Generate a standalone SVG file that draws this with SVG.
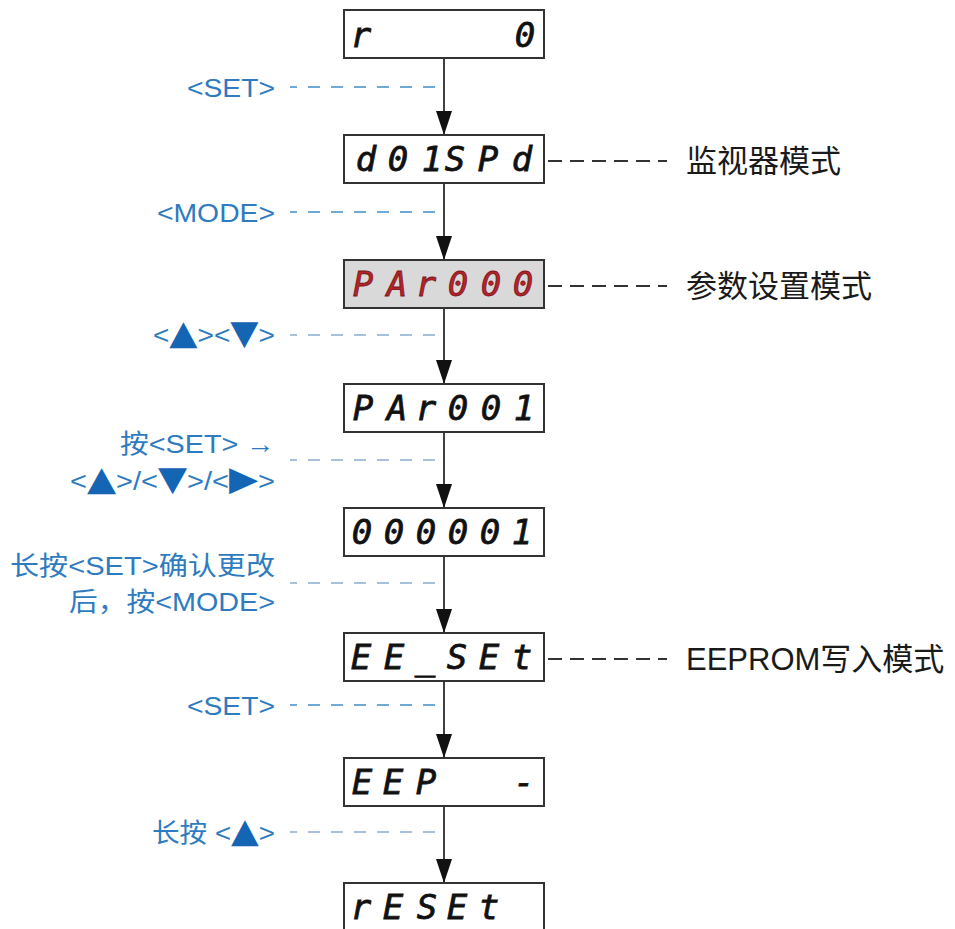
<svg xmlns="http://www.w3.org/2000/svg" width="955" height="929" viewBox="0 0 955 929">
<defs>
<style>
.box{fill:#ffffff;stroke:#333333;stroke-width:2}
.box.sel{fill:#d9d9d9}
.seg{font-family:"DejaVu Sans Mono","Liberation Mono",monospace;font-style:oblique;font-size:34px;fill:#111111;stroke:#111111;stroke-width:0.8;text-anchor:middle}
.seg.red{fill:#b3242a;stroke:#7a1418}
.flow{stroke:#111111;stroke-width:1.6;fill:none;marker-end:url(#arr)}
.dl{stroke:#3f8fc5;stroke-width:1.6;stroke-dasharray:12 11;fill:none}
.dl.lt{stroke:#8badd0}
.dr{stroke:#333333;stroke-width:1.8;stroke-dasharray:14 8;fill:none}
.lbl{font-family:"Liberation Sans","Noto Sans CJK SC",sans-serif;font-size:26px;fill:#2e7bbf;text-anchor:end}
.tri{font-family:"DejaVu Sans",sans-serif;font-size:34px;fill:#1565b5}
.rl{font-family:"Liberation Sans","Noto Sans CJK SC",sans-serif;font-size:31px;fill:#1a1a1a}
</style>
<marker id="arr" viewBox="0 0 24 16" refX="24" refY="8" markerWidth="24" markerHeight="16" markerUnits="userSpaceOnUse" orient="auto">
<path d="M0,0 L24,8 L0,16 z" fill="#111111"/>
</marker>
</defs>

<g id="connectors">
<line class="flow" x1="444" y1="58" x2="444" y2="135"/>
<line class="flow" x1="444" y1="183" x2="444" y2="260"/>
<line class="flow" x1="444" y1="308" x2="444" y2="384"/>
<line class="flow" x1="444" y1="432" x2="444" y2="508"/>
<line class="flow" x1="444" y1="556" x2="444" y2="633"/>
<line class="flow" x1="444" y1="681" x2="444" y2="758"/>
<line class="flow" x1="444" y1="806" x2="444" y2="883"/>
<line class="dl" x1="435" y1="87" x2="290" y2="87"/>
<line class="dl" x1="435" y1="212" x2="290" y2="212"/>
<line class="dl lt" x1="435" y1="335" x2="290" y2="335"/>
<line class="dl lt" x1="435" y1="460" x2="290" y2="460"/>
<line class="dl lt" x1="435" y1="583" x2="290" y2="583"/>
<line class="dl" x1="435" y1="705" x2="290" y2="705"/>
<line class="dl lt" x1="435" y1="832" x2="290" y2="832"/>
<line class="dr" x1="548" y1="161" x2="667" y2="161"/>
<line class="dr" x1="548" y1="286" x2="667" y2="286"/>
<line class="dr" x1="548" y1="659" x2="667" y2="659"/>
</g>

<g id="n1">
<rect class="box" x="344" y="10" width="200" height="48"/>
<text class="seg" x="361 525" y="47" font-size="37">r0</text>
</g>
<g id="n2">
<rect class="box" x="344" y="135" width="200" height="48"/>
<text class="seg" x="366 398 432 455 488 522" y="171">d01SPd</text>
</g>
<g id="n3">
<rect class="box sel" x="344" y="260" width="200" height="48"/>
<text class="seg red" x="363 397 426 458 491 523" y="296">PAr000</text>
</g>
<g id="n4">
<rect class="box" x="344" y="384" width="200" height="48"/>
<text class="seg" x="363 397 426 458 491 524" y="420">PAr001</text>
</g>
<g id="n5">
<rect class="box" x="344" y="508" width="200" height="48"/>
<text class="seg" x="362 394 426 458 490 522" y="544">000001</text>
</g>
<g id="n6">
<rect class="box" x="344" y="633" width="200" height="48"/>
<text class="seg" x="361 394 425 457 489 522" y="669">EE_SEt</text>
</g>
<g id="n7">
<rect class="box" x="344" y="758" width="200" height="48"/>
<text class="seg" x="362 393 426 524" y="794">EEP-</text>
</g>
<g id="n8">
<rect class="box" x="344" y="883" width="200" height="48"/>
<text class="seg" x="361 393 427 457 489" y="919">rESEt</text>
</g>

<g id="labels-left">
<text class="lbl" x="275" y="97" textLength="88" lengthAdjust="spacingAndGlyphs">&lt;SET&gt;</text>
<text class="lbl" x="275" y="222" textLength="118" lengthAdjust="spacingAndGlyphs">&lt;MODE&gt;</text>
<text class="lbl" x="275" y="344" textLength="122" lengthAdjust="spacingAndGlyphs">&lt;<tspan class="tri">▲</tspan>&gt;&lt;<tspan class="tri">▼</tspan>&gt;</text>
<text class="lbl" x="275" y="453" textLength="155" lengthAdjust="spacingAndGlyphs">按&lt;SET&gt; →</text>
<text class="lbl" x="275" y="490" textLength="205" lengthAdjust="spacingAndGlyphs">&lt;<tspan class="tri">▲</tspan>&gt;/&lt;<tspan class="tri">▼</tspan>&gt;/&lt;<tspan class="tri">▶</tspan>&gt;</text>
<text class="lbl" x="275" y="575" textLength="265" lengthAdjust="spacingAndGlyphs">长按&lt;SET&gt;确认更改</text>
<text class="lbl" x="275" y="611" textLength="206" lengthAdjust="spacingAndGlyphs">后，按&lt;MODE&gt;</text>
<text class="lbl" x="275" y="715" textLength="88" lengthAdjust="spacingAndGlyphs">&lt;SET&gt;</text>
<text class="lbl" x="275" y="842" textLength="123" lengthAdjust="spacingAndGlyphs">长按 &lt;<tspan class="tri">▲</tspan>&gt;</text>
</g>

<g id="labels-right">
<text class="rl" x="686" y="172">监视器模式</text>
<text class="rl" x="686" y="297">参数设置模式</text>
<text class="rl" x="686" y="670">EEPROM写入模式</text>
</g>
</svg>
